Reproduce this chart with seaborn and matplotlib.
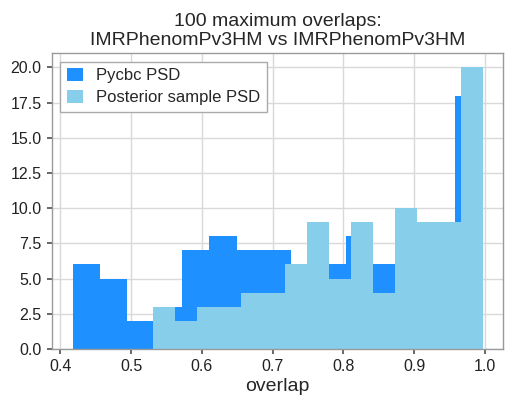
import numpy as np
import pandas as pd
import matplotlib
matplotlib.use("Agg")
import matplotlib.pyplot as plt
import seaborn as sns

# Bin edges and counts
pycbc_edges = [0.4174, 0.4560, 0.4946, 0.5332, 0.5718, 0.6104, 0.6490, 0.6876,
               0.7262, 0.7648, 0.8034, 0.8420, 0.8806, 0.9192, 0.9578, 0.9964]
pycbc_counts = [6, 5, 2, 3, 7, 8, 7, 7, 5, 6, 8, 6, 6, 6, 18]

post_edges = [0.5310, 0.5621, 0.5932, 0.6242, 0.6553, 0.6864, 0.7174, 0.7485,
              0.7796, 0.8106, 0.8417, 0.8728, 0.9038, 0.9349, 0.9660, 0.9970]
post_counts = [3, 2, 3, 3, 4, 4, 6, 9, 5, 9, 4, 10, 9, 9, 20]

labels = ["Pycbc PSD", "Posterior sample PSD"]
colors = ["#1E90FF", "#87CEEB"]
title = "100 maximum overlaps:\nIMRPhenomPv3HM vs IMRPhenomPv3HM"
xlabel = "overlap"
xticks = [0.4, 0.5, 0.6, 0.7, 0.8, 0.9, 1.0]
yticks = [0.0, 2.5, 5.0, 7.5, 10.0, 12.5, 15.0, 17.5, 20.0]

sns.set_theme(style="whitegrid")
plt.rcParams["font.family"] = ["Liberation Sans", "DejaVu Sans"]
plt.rcParams.update({
    "axes.edgecolor": "#9a9a9a",
    "axes.linewidth": 1.0,
    "grid.color": "#d9d9d9",
    "grid.linewidth": 1.0,
    "xtick.bottom": True,
    "ytick.left": True,
    "xtick.color": "#555555",
    "ytick.color": "#555555",
    "xtick.labelcolor": "#222222",
    "ytick.labelcolor": "#222222",
    "xtick.major.size": 3.5,
    "ytick.major.size": 3.5,
})

fig = plt.figure(figsize=(5.05, 4.01), dpi=100)
ax = fig.add_axes([0.103, 0.130, 0.893, 0.737])

def centers(edges):
    e = np.asarray(edges)
    return (e[:-1] + e[1:]) / 2

sns.histplot(x=centers(pycbc_edges), weights=pycbc_counts, bins=pycbc_edges,
             element="step", fill=True, color=colors[0], alpha=1.0, linewidth=0,
             label=labels[0], ax=ax)
sns.histplot(x=centers(post_edges), weights=post_counts, bins=post_edges,
             element="step", fill=True, color=colors[1], alpha=1.0, linewidth=0,
             label=labels[1], ax=ax)

ax.set_xlim(0.3884, 1.0254)
ax.set_ylim(0, 21)
ax.set_xticks(xticks)
ax.set_xticklabels([f"{v:.1f}" for v in xticks])
ax.set_yticks(yticks)
ax.set_yticklabels([f"{v:.1f}" for v in yticks])
ax.tick_params(labelsize=11.5, pad=4)
ax.set_xlabel(xlabel, fontsize=14, labelpad=3)
ax.set_ylabel("")
ax.set_title(title, fontsize=14, pad=6, linespacing=1.15)
ax.set_axisbelow(True)

leg = ax.legend(loc="upper left", fontsize=12, frameon=True, fancybox=False,
                edgecolor="#aaaaaa", framealpha=1.0, handlelength=0.95,
                handleheight=0.75, labelspacing=0.42, borderpad=0.4)
leg.get_frame().set_linewidth(1.0)

fig.savefig("out.png", dpi=100)
